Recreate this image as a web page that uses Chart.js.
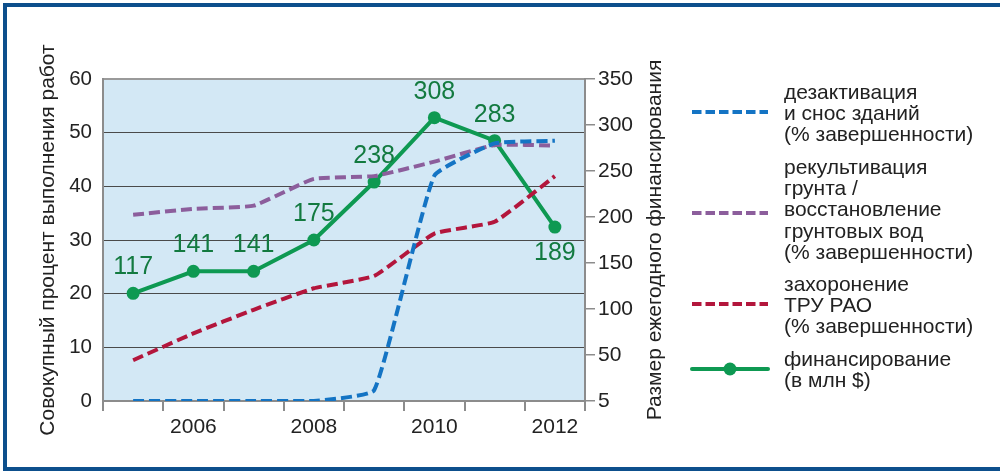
<!DOCTYPE html>
<html>
<head>
<meta charset="utf-8">
<script src="https://cdn.jsdelivr.net/npm/chart.js@4/dist/chart.umd.min.js"></script>
<style>
  html, body { margin: 0; padding: 0; background: #fff; }
  #wrap { width: 1000px; height: 471px; }
</style>
</head>
<body>
<div id="wrap"><canvas id="chart" width="1000" height="471"></canvas></div>
<script>
// Data
const years = ['2005', '2006', '2007', '2008', '2009', '2010', '2011', '2012'];
const yearLabels = ['2006', '2008', '2010', '2012'];
const demolition = [0, 0, 0, 0, 2, 42, 48, 48.5];          // blue, % complete
const soilWater = [34.7, 35.8, 36.4, 41.4, 41.9, 44.6, 47.7, 47.6]; // purple, % complete
const wasteBurial = [7.6, 12.6, 17, 21, 23.3, 31.2, 33.4, 41.9];   // red, % complete
const funding = [117, 141, 141, 175, 238, 308, 283, 189];  // green, mln $

const leftTicks = [0, 10, 20, 30, 40, 50, 60];
const rightTicks = [0, 50, 100, 150, 200, 250, 300, 350];
const rightTickLabels = ['5', '50', '100', '150', '200', '250', '300', '350'];

const leftTitle = 'Совокупный процент выполнения работ';
const rightTitle = 'Размер ежегодного финансирования';
const legendDemolition = ['дезактивация', 'и снос зданий', '(% завершенности)'];
const legendSoil = ['рекультивация', 'грунта /', 'восстановление', 'грунтовых вод', '(% завершенности)'];
const legendBurial = ['захоронение', 'ТРУ РАО', '(% завершенности)'];
const legendFunding = ['финансирование', '(в млн $)'];

const BLUE = '#1474c4';
const PURPLE = '#8c5e9c';
const RED = '#b3163c';
const GREEN = '#0e9952';
const GREEN_TEXT = '#137a40';
const AXIS_GRAY = '#8c8c8c';
const FONT = "'Liberation Sans', Arial, sans-serif";

// Background, plot area fill and blue frame
const backdrop = {
  id: 'backdrop',
  beforeDraw(chart) {
    const { ctx, chartArea: a } = chart;
    ctx.save();
    ctx.fillStyle = '#ffffff';
    ctx.fillRect(0, 0, chart.width, chart.height);
    ctx.fillStyle = '#d3e8f5';
    ctx.fillRect(a.left, a.top, a.right - a.left, a.bottom - a.top);
    ctx.fillStyle = '#0d4f8c';
    ctx.fillRect(3, 3, chart.width - 3, 4);
    ctx.fillRect(3, 3, 4, 466);
    ctx.fillRect(3, 467, chart.width - 3, 4);
    ctx.restore();
  }
};

// Value labels over the funding line
const valueLabels = {
  id: 'valueLabels',
  afterDatasetsDraw(chart) {
    const { ctx } = chart;
    const meta = chart.getDatasetMeta(3);
    ctx.save();
    ctx.font = '25px ' + FONT;
    ctx.fillStyle = GREEN_TEXT;
    ctx.textAlign = 'center';
    ctx.textBaseline = 'middle';
    meta.data.forEach((pt, i) => {
      const below = i === funding.length - 1;
      ctx.fillText(String(funding[i]), pt.x, below ? pt.y + 26 : pt.y - 26);
    });
    ctx.restore();
  }
};

// Axis titles (both read bottom to top) and the legend on the right
const extras = {
  id: 'extras',
  afterDraw(chart) {
    const { ctx, chartArea: a } = chart;
    const midY = (a.top + a.bottom) / 2;
    ctx.save();
    ctx.fillStyle = '#222';
    ctx.font = '21px ' + FONT;
    ctx.textAlign = 'center';
    ctx.textBaseline = 'middle';
    [[48, leftTitle], [655, rightTitle]].forEach(([x, t]) => {
      ctx.save();
      ctx.translate(x, midY);
      ctx.rotate(-Math.PI / 2);
      ctx.fillText(t, 0, 0);
      ctx.restore();
    });

    const items = [
      { color: BLUE, dash: true, lines: legendDemolition, sampleY: 112, firstY: 93 },
      { color: PURPLE, dash: true, lines: legendSoil, sampleY: 213, firstY: 168 },
      { color: RED, dash: true, lines: legendBurial, sampleY: 304, firstY: 285 },
      { color: GREEN, dash: false, lines: legendFunding, sampleY: 369, firstY: 360 }
    ];
    items.forEach(it => {
      ctx.save();
      ctx.strokeStyle = it.color;
      ctx.lineWidth = 4;
      ctx.lineCap = it.dash ? 'butt' : 'round';
      ctx.setLineDash(it.dash ? [9.5, 4] : []);
      ctx.beginPath();
      ctx.moveTo(692, it.sampleY);
      ctx.lineTo(768, it.sampleY);
      ctx.stroke();
      if (!it.dash) {
        ctx.fillStyle = it.color;
        ctx.beginPath();
        ctx.arc(730, it.sampleY, 6.5, 0, Math.PI * 2);
        ctx.fill();
      }
      ctx.restore();
      ctx.textAlign = 'left';
      ctx.fillStyle = '#222';
      it.lines.forEach((l, k) => ctx.fillText(l, 784, it.firstY + k * 21.3));
    });
    ctx.restore();
  }
};

const dashed = (label, data, color) => ({
  label,
  data,
  yAxisID: 'y',
  borderColor: color,
  borderWidth: 4,
  borderDash: [11, 5],
  borderCapStyle: 'butt',
  pointRadius: 0,
  fill: false,
  tension: 0.12
});

new Chart(document.getElementById('chart'), {
  type: 'line',
  data: {
    labels: years,
    datasets: [
      dashed(legendDemolition.join(' '), demolition, BLUE),
      dashed(legendSoil.join(' '), soilWater, PURPLE),
      dashed(legendBurial.join(' '), wasteBurial, RED),
      {
        label: legendFunding.join(' '),
        data: funding,
        yAxisID: 'y1',
        borderColor: GREEN,
        backgroundColor: GREEN,
        borderWidth: 4,
        tension: 0,
        pointRadius: 6.5,
        pointBackgroundColor: GREEN,
        pointBorderWidth: 0
      }
    ]
  },
  options: {
    responsive: false,
    animation: false,
    layout: { padding: { left: 0, right: 0, top: 79, bottom: 0 } },
    plugins: {
      legend: { display: false },
      tooltip: { enabled: false }
    },
    scales: {
      x: {
        type: 'category',
        offset: true,
        afterFit(s) { s.height = 70; },
        border: { display: true, color: AXIS_GRAY, width: 2 },
        grid: {
          offset: true,
          drawOnChartArea: false,
          drawTicks: true,
          tickLength: 10,
          color: AXIS_GRAY,
          lineWidth: 2
        },
        ticks: {
          autoSkip: false,
          maxRotation: 0,
          padding: 4,
          color: '#222',
          font: { family: FONT, size: 21 },
          callback(v, i) {
            return yearLabels.includes(years[i]) ? years[i] : '';
          }
        }
      },
      y: {
        position: 'left',
        min: leftTicks[0],
        max: leftTicks[leftTicks.length - 1],
        afterFit(s) { s.width = 103; },
        afterBuildTicks(s) { s.ticks = leftTicks.map(v => ({ value: v })); },
        border: { display: true, color: AXIS_GRAY, width: 2 },
        grid: {
          drawTicks: false,
          color: c => (c.tick.value === 0 || c.tick.value === 60) ? '#9a9a9a' : '#4a4a4a',
          lineWidth: c => (c.tick.value === 0 || c.tick.value === 60) ? 2 : 1
        },
        ticks: {
          padding: 11,
          color: '#222',
          font: { family: FONT, size: 20.5 }
        }
      },
      y1: {
        position: 'right',
        min: rightTicks[0],
        max: rightTicks[rightTicks.length - 1],
        afterFit(s) { s.width = 415; },
        afterBuildTicks(s) { s.ticks = rightTicks.map(v => ({ value: v })); },
        border: { display: true, color: AXIS_GRAY, width: 2 },
        grid: {
          drawOnChartArea: false,
          drawTicks: true,
          tickLength: 10,
          color: AXIS_GRAY,
          lineWidth: 1.5
        },
        ticks: {
          padding: 3,
          color: '#222',
          font: { family: FONT, size: 21 },
          callback(v) {
            const i = rightTicks.indexOf(v);
            return i >= 0 ? rightTickLabels[i] : '';
          }
        }
      }
    }
  },
  plugins: [backdrop, valueLabels, extras]
});
</script>
</body>
</html>
